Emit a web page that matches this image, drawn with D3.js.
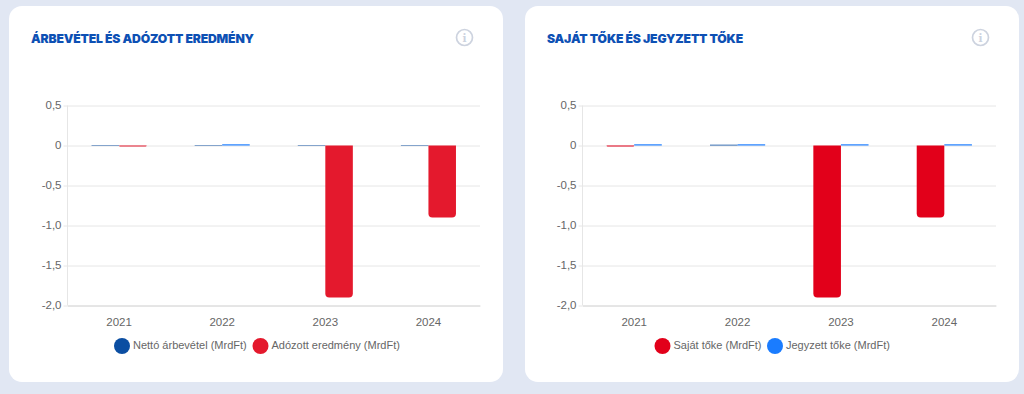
<!DOCTYPE html>
<html>
<head>
    <meta charset="utf-8">
    <title></title>
    <style>
        html, body { margin: 0; padding: 0; background: #e1e7f3; overflow: hidden; }
        svg { display: block; }
        .tick text { font-family: "Liberation Sans", sans-serif; font-size: 11.5px; fill: #666; }
        .legend text { font-family: "Liberation Sans", sans-serif; font-size: 11px; fill: #666; }
        .title { font-family: Inter, sans-serif; font-size: 12.2px; font-weight: 900; letter-spacing: -0.17px; fill: #0d50b4; }
    </style>
</head>
<body>
<script src="https://cdn.jsdelivr.net/npm/d3@7/dist/d3.min.js"></script>
<script>
    const years = ["2021", "2022", "2023", "2024"];
    const yTicks = [0.5, 0, -0.5, -1, -1.5, -2];
    const yTickLabels = ["0,5", "0", "-0,5", "-1,0", "-1,5", "-2,0"];

    // left chart
    const title1 = "ÁRBEVÉTEL ÉS ADÓZOTT EREDMÉNY";
    const names1 = ["Nettó árbevétel (MrdFt)", "Adózott eredmény (MrdFt)"];
    const colors1 = ["#0b4ea2", "#e4192d"];
    const netto = [0.006, 0.006, 0.006, 0.006];
    const adozott = [-0.012, 0.015, -1.9, -0.9];

    // right chart
    const title2 = "SAJÁT TŐKE ÉS JEGYZETT TŐKE";
    const names2 = ["Saját tőke (MrdFt)", "Jegyzett tőke (MrdFt)"];
    const colors2 = ["#e2001a", "#1a7cff"];
    const sajat = [-0.012, 0.01, -1.9, -0.9];
    const jegyzett = [0.015, 0.015, 0.015, 0.015];

    // tiny positive bars show up blue in both charts
    const positiveColors = ["#0b4ea2", "#1a7cff"];

    const width = 1024, height = 394;
    const svg = d3.select("body").append("svg").attr("width", width).attr("height", height);

    const y = d3.scaleLinear().domain([0.5, -2]).range([105.5, 305.5]);

    function drawCard(o) {
        const g = svg.append("g").attr("transform", "translate(" + o.left + ",0)");

        g.append("rect").attr("x", 0).attr("y", 6).attr("width", 494).attr("height", 376)
            .attr("rx", 13).attr("fill", "#fff");

        g.append("text").attr("class", "title").attr("x", 22).attr("y", 43).text(o.title);

        // info icon
        const info = g.append("g").attr("transform", "translate(" + o.iconX + ",37.5)");
        info.append("circle").attr("r", 8).attr("fill", "none").attr("stroke", "#cdd3df").attr("stroke-width", 1.7);
        info.append("text").attr("y", 4).attr("text-anchor", "middle")
            .attr("font-family", "DejaVu Serif").attr("font-weight", "bold").attr("font-size", 10.5)
            .attr("fill", "#cdd3df").text("i");

        const x = d3.scaleBand().domain(years).range([o.plotL, o.plotR]);
        const inner = d3.scaleBand().domain([0, 1]).range([x.bandwidth() * 0.233, x.bandwidth() * 0.767]);

        // grid and y axis
        const yAxis = d3.axisLeft(y).tickValues(yTicks).tickSize(o.plotL - o.plotR).tickPadding(6)
            .tickFormat((d, i) => yTickLabels[i]);
        const ga = g.append("g").attr("transform", "translate(" + o.plotL + ",0)").call(yAxis);
        ga.select(".domain").remove();
        ga.selectAll("line").attr("stroke", "#e6e6e6");
        ga.selectAll(".tick").select("text").attr("dy", "0.22em");
        // small tick marks left of the axis
        ga.selectAll(".tick").append("line").attr("x1", -4).attr("x2", 0).attr("stroke", "#e6e6e6");
        g.append("line").attr("x1", o.plotL).attr("x2", o.plotL).attr("y1", y(0.5)).attr("y2", y(-2)).attr("stroke", "#e6e6e6");

        // x axis
        const xAxis = d3.axisBottom(x).tickSize(0).tickPadding(12);
        const gx = g.append("g").attr("transform", "translate(0," + y(-2) + ")").call(xAxis);
        gx.select(".domain").attr("stroke", "#d8d8d8");

        // bars
        function barPath(d, i, k) {
            const x0 = x(years[i]) + inner(k), w = inner.bandwidth();
            const y0 = y(0), y1 = y(d);
            const r = Math.min(4, Math.abs(y1 - y0));
            if (d >= 0) return "M" + x0 + "," + y0 + "H" + (x0 + w) + "V" + y1 + "H" + x0 + "Z";
            return "M" + x0 + "," + y0 + "H" + (x0 + w) + "V" + (y1 - r)
                + "Q" + (x0 + w) + "," + y1 + " " + (x0 + w - r) + "," + y1
                + "H" + (x0 + r) + "Q" + x0 + "," + y1 + " " + x0 + "," + (y1 - r) + "Z";
        }
        o.series.forEach(function (vals, k) {
            g.append("g").selectAll("path").data(vals).enter().append("path")
                .attr("fill", d => d > 0 ? positiveColors[k] : o.colors[k])
                .attr("d", (d, i) => barPath(d, i, k));
        });

        // legend
        const lg = g.append("g").attr("class", "legend");
        o.names.forEach(function (name, k) {
            lg.append("circle").attr("cx", o.legendX[k]).attr("cy", 346).attr("r", 8).attr("fill", o.colors[k]);
            lg.append("text").attr("x", o.legendX[k] + 11).attr("y", 349).text(name);
        });
    }

    drawCard({ left: 9, title: title1, names: names1, colors: colors1, series: [netto, adozott],
        iconX: 455.5, plotL: 58.5, plotR: 471, legendX: [113, 251.5] });
    drawCard({ left: 525, title: title2, names: names2, colors: colors2, series: [sajat, jegyzett],
        iconX: 455.5, plotL: 57.5, plotR: 471, legendX: [137.5, 250] });
</script>
</body>
</html>
